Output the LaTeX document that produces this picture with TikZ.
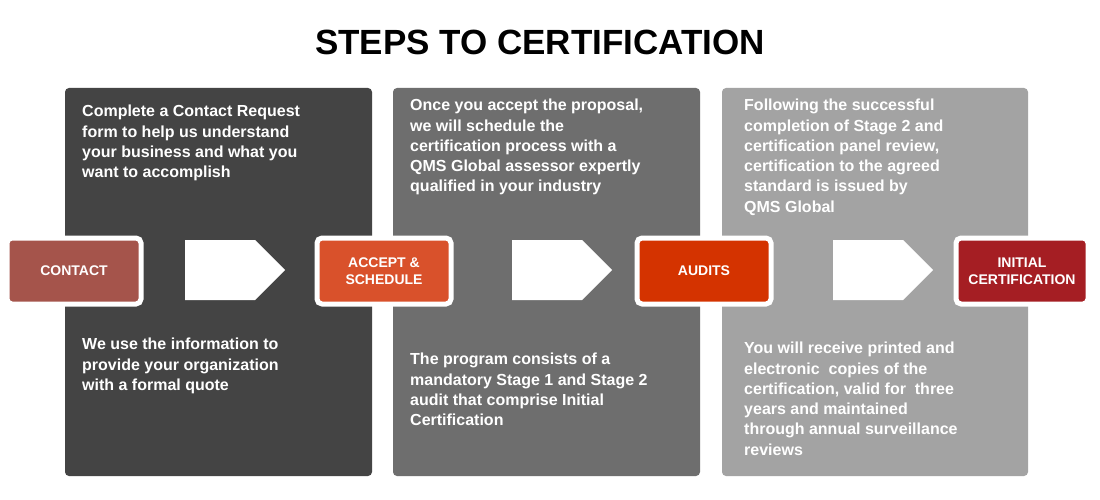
\documentclass[tikz,border=0pt]{standalone}
\usepackage{fontspec}
\setmainfont{Liberation Sans}
\usetikzlibrary{shapes.arrows}
\definecolor{p1}{HTML}{444444}
\definecolor{p2}{HTML}{6E6E6E}
\definecolor{p3}{HTML}{A3A3A3}
\definecolor{c1}{HTML}{A5544B}
\definecolor{c2}{HTML}{D9512B}
\definecolor{c3}{HTML}{D43300}
\definecolor{c4}{HTML}{A51E23}
\begin{document}
\begin{tikzpicture}[x=1pt,y=-1pt,
 panel/.style={rounded corners=4pt},
 txt/.style={anchor=north west,text=white,align=left,inner sep=0pt,font=\fontsize{16}{20.3}\selectfont\bfseries},
 stepbox/.style={draw=white,line width=5pt,rounded corners=5pt,minimum width=134pt,minimum height=66pt,text=white,align=center,font=\fontsize{14}{17}\selectfont\bfseries},
 arr/.style={single arrow,fill=white,draw=none,minimum height=100pt,minimum width=60pt,single arrow head extend=0pt,inner sep=0pt}]
\useasboundingbox (0,0) rectangle (1100,500);
\fill[white] (0,0) rectangle (1100,500);
\node[font=\fontsize{35}{40}\selectfont\bfseries] (title) at (540,42) {STEPS TO CERTIFICATION};
\fill[p1,panel] (65,88) rectangle (372,476);
\fill[p2,panel] (393,88) rectangle (700,476);
\fill[p3,panel] (722,88) rectangle (1028,476);
\node[txt] (t1) at (82,105) {Complete a Contact Request\\form to help us understand\\your business and what you\\want to accomplish};
\node[txt] (b1) at (82,338) {We use the information to\\provide your organization\\with a formal quote};
\node[txt] (t2) at (410,99) {Once you accept the proposal,\\we will schedule the\\certification process with a\\QMS Global assessor expertly\\qualified in your industry};
\node[txt] (b2) at (410,353) {The program consists of a\\mandatory Stage 1 and Stage 2\\audit that comprise Initial\\Certification};
\node[txt] (t3) at (744,99) {Following the successful\\completion of Stage 2 and\\certification panel review,\\certification to the agreed\\standard is issued by\\QMS Global};
\node[txt] (b3) at (744,342) {You will receive printed and\\electronic\ \ copies of the\\certification, valid for\ \ three\\years and maintained\\through annual surveillance\\reviews};
\node[stepbox,fill=c1] (s1) at (74,271) {CONTACT};
\node[stepbox,fill=c2] (s2) at (384,271) {ACCEPT \&\\SCHEDULE};
\node[stepbox,fill=c3] (s3) at (704,271) {AUDITS};
\node[stepbox,fill=c4,minimum width=132pt] (s4) at (1022,271) {INITIAL\\CERTIFICATION};
\node[arr] (a1) at (220,270) {};
\node[arr] (a2) at (547,270) {};
\node[arr] (a3) at (868,270) {};
\end{tikzpicture}
\end{document}
